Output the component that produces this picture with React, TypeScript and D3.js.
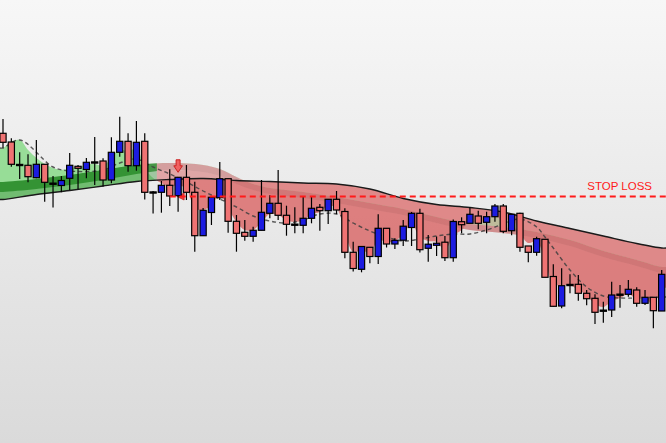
import React from 'react';
import * as d3 from 'd3';

const W = 666;
const H = 443;

// ---- candles (price units) ----
const opens = [366.7,358,335,334.7,322.3,335.7,316.3,314.5,321.7,333.7,330.5,337.5,339,320,347.7,358.7,334.3,358.7,307.5,307.7,314.7,304.3,322.7,307.7,264.3,287.5,302.3,321.3,278.7,267.7,263.7,269.7,286.7,296.7,284.7,275.3,274.7,281.7,292.7,289.3,300.7,288.5,247.7,230.7,252.7,243.5,271.7,256,259.8,272.5,286.7,251.7,254.7,257.8,242.3,278.3,276.7,284,277.7,283.3,294,269.3,286.7,254,247.7,260.7,223.5,194,215,215.7,206.7,201.7,189.3,190,205.3,205.7,210,196.7,202.7,189];
const highs = [381,361.7,347.7,345.7,360,335.7,324,324,347,335,342,363,341.7,362.7,383.3,366.7,379,366.7,309,319,330.7,322.7,335,318.3,292,303,338,321.3,285,280,273.3,320,304.7,330,294.3,292.7,303.3,303.3,296,301,309,291.7,258.3,253.5,252.7,285.8,271.7,261.7,280,288,291.2,265,263.5,264,280.5,282.7,292.7,289.3,288.3,296,296,285.7,287.3,254,263.3,260.7,235.8,231.7,225.8,225,210,205.7,198.3,218.3,215,220,212.7,210,202.7,230];
const lows = [352.3,333.3,321,317.7,321.7,298.3,292.5,307.7,310,310.7,321.7,315,313.5,316.7,343.3,328.3,329.3,300.5,286.5,287.3,294,288.3,300,248.3,264,275,300,267.3,248.3,259.3,258.3,269.7,281.7,280,264.3,266.7,266.7,276.7,269.3,276,286,241.7,228.5,227.7,236.7,236,252.5,251,254,254,247.5,238.3,244,239,238.3,266.7,276.7,270.7,266.7,278.3,266.7,264.7,248.3,237.7,244.3,222.7,193.5,191.7,206.7,199.3,194.7,176,177.3,183,192.3,203.3,193.3,195,171.7,189];
const closes = [357.7,335.7,335,323.3,335.7,317.7,316.3,319.5,334.7,331.7,337.7,337.5,320,347.7,358.7,334.3,357.7,307.7,307.5,314.7,304,322.7,307.7,264.3,289.7,302.7,321.3,278.7,266.7,263.7,269.7,287.7,296.7,284.7,275.7,275.3,281.7,291.7,289.3,300.7,290,247.7,231.5,253.5,243.5,271.7,256,259.7,273.8,286.7,250.3,255.8,256.7,242.3,278.5,275.3,285.7,276.7,283.3,294,268.7,285.7,252.7,247.7,261.3,222.7,193.7,214.3,215,206.7,201.3,187.7,189.3,205,205.3,210.7,196.7,202.7,189.3,225.7];

// ---- slow average (solid black) ----
const slowIdx = [0,4,8,12,16,20,24,28,32,36,40,44,48,52,56,60,64,68,72,76,79];
const slowVal = [300.5,305.5,309.5,314,318.5,320.5,321.5,319.5,318.5,317,316,311,301.5,295.5,292.5,288,279,271.5,264,256.5,252];

// ---- fast average (dashed) ----
const fastIdx = [0,2,6,8,12,14,16,18,20,22,24,26,28,30,32,34,36,38,40,42,44,46,48,50,52,54,56,58,60,62,64,65,66,68,70,72,74,76,79];
const fastVal = [352,360,333,329,330,337,341,333,326,318,309,301,293,284,279,277,280,286,286,277,269,263,259,261,264,266,266,270,276,281,273,263,252,230,213,204,202,202,203];

// ---- ribbon edge (fastest) one value per candle ----
const edgeVal = [352,358,360,350,342,336,332,330,332,333,335,336,334,342,351,348,352,332,322,317,313,315,311,292,290,295,305,292,278,270,270,278,286,285,280,278,280,286,288,294,292,268,248,250,247,260,258,259,266,276,263,259,258,250,264,270,278,277,280,285,278,282,267,257,259,240,216,215,215,210,205,196,193,199,202,206,201,202,195,212];

// ---- inner ribbon averages ----
const midIdx = [0,4,8,12,16,20,24,26,28,30,32,36,40,44,48,52,56,60,64,68,72,76,79];
const mid1Val = [318,321,325,330,335,337,335,331,323,316,312,308,303,297,291,283,276,273,268,260,249,240,233];
const mid2Val = [308,311,315,320,326,330,328,324,316,310,306,302,297,291,285,277,270,267,262,254,243,234,227];

// ---- annotations ----
const stopLossPrice = [303.5];
const stopLossStart = [20];
const stopLossLabel = ['STOP LOSS'];
const signalIndex = [21];

const xS = d3.scaleLinear().domain([0, 79]).range([3, 661.7]);
const yS = d3.scaleLinear().domain([500, 57]).range([0, 443]);

function interp(idx: number[], val: number[], t: number) {
  if (t <= idx[0]) return val[0];
  for (let k = 0; k < idx.length - 1; k++) {
    if (t <= idx[k + 1]) {
      const f = (t - idx[k]) / (idx[k + 1] - idx[k]);
      return val[k] + f * (val[k + 1] - val[k]);
    }
  }
  return val[val.length - 1];
}

function pts(idx: number[], val: number[]): [number, number][] {
  const p: [number, number][] = idx.map((d, i) => [xS(d), yS(val[i])]);
  return [[0, p[0][1]], ...p, [W, p[p.length - 1][1]]];
}

const lineGen = d3.line().curve(d3.curveCatmullRom.alpha(0.5));

function band(a: [number, number][], b: [number, number][]) {
  const pa = lineGen(a) as string;
  const pb = lineGen(b.slice().reverse()) as string;
  return pa + 'L' + pb.slice(1) + 'Z';
}
function above(a: [number, number][]) {
  return (lineGen(a) as string) + `L${W + 20},-20L-20,-20Z`;
}
function below(a: [number, number][]) {
  return (lineGen(a) as string) + `L${W + 20},${H + 20}L-20,${H + 20}Z`;
}

const edgeIdx = edgeVal.map((_, i) => i);
const pSlow = pts(slowIdx, slowVal);
const pFast = pts(fastIdx, fastVal);
const pEdge = pts(edgeIdx, edgeVal);
const pM1 = pts(midIdx, mid1Val);
const pM2 = pts(midIdx, mid2Val);

// trend segments: edge above slow => up
function trendSegments() {
  const segs: { x0: number; x1: number; up: boolean }[] = [];
  const diff = (i: number) => edgeVal[i] - interp(slowIdx, slowVal, i);
  let start = -20;
  let up = diff(0) > 0;
  for (let i = 0; i < edgeVal.length - 1; i++) {
    const d0 = diff(i), d1 = diff(i + 1);
    if ((d0 > 0) !== (d1 > 0)) {
      const t = i + d0 / (d0 - d1);
      segs.push({ x0: start, x1: xS(t), up });
      start = xS(t);
      up = d1 > 0;
    }
  }
  segs.push({ x0: start, x1: W + 20, up });
  return segs;
}
const segs = trendSegments();

export default function App() {
  const slx0 = xS(stopLossStart[0]);
  const sly = yS(stopLossPrice[0]);
  const sx = xS(signalIndex[0]);
  const sTop = yS(highs[signalIndex[0]]) - 5;
  return (
    <div style={{ position: 'fixed', left: 0, top: 0 }}>
      <svg width={W} height={H} style={{ display: 'block' }}>
        <defs>
          <linearGradient id="bg" x1="0" y1="0" x2="0" y2="1">
            <stop offset="0" stopColor="#f7f7f7" />
            <stop offset="1" stopColor="#dadada" />
          </linearGradient>
          <clipPath id="aboveS"><path d={above(pSlow)} /></clipPath>
          <clipPath id="belowS"><path d={below(pSlow)} /></clipPath>
          <clipPath id="aboveM1"><path d={above(pM1)} /></clipPath>
          <clipPath id="trendUp">
            {segs.filter(s => s.up).map((s, i) => (
              <rect key={i} x={s.x0} y={-20} width={s.x1 - s.x0} height={H + 40} />
            ))}
          </clipPath>
          <clipPath id="trendDown">
            {segs.filter(s => !s.up).map((s, i) => (
              <rect key={i} x={s.x0} y={-20} width={s.x1 - s.x0} height={H + 40} />
            ))}
          </clipPath>
        </defs>
        <rect x={0} y={0} width={W} height={H} fill="url(#bg)" />

        {/* ribbon layers */}
        <path d={band(pEdge, pSlow)} fill="#5ccc5c" fillOpacity={0.55} clipPath="url(#aboveS)" />
        <path d={band(pEdge, pSlow)} fill="#dc5c5c" fillOpacity={0.58} clipPath="url(#belowS)" />

        <g clipPath="url(#trendUp)">
          <path d={band(pM1, pSlow)} fill="#2f8f2f" fillOpacity={0.4} />
          <path d={band(pM1, pM2)} fill="#0c780c" fillOpacity={0.6} />
        </g>
        <g clipPath="url(#trendDown)">
          <path d={band(pM1, pSlow)} fill="#d05050" fillOpacity={0.18} />
          <path d={band(pM2, pEdge)} fill="#d04848" fillOpacity={0.3} />
          <path d={band(pM1, pM2)} fill="#a83030" fillOpacity={0.3} />
        </g>
        <path d={band(pEdge, pM1)} fill="#8ee08e" fillOpacity={0.4} clipPath="url(#aboveM1)" />

        <path d={lineGen(pSlow) as string} fill="none" stroke="#1a1a1a" strokeWidth={1.4} />
        <path d={lineGen(pFast) as string} fill="none" stroke="#404040" strokeOpacity={0.85} strokeWidth={1.4} strokeDasharray="4,3" />

        {/* entry marker */}
        <polygon points={`${sx - 1},${sly} ${sx + 6},${sly - 3.5} ${sx + 6},${sly + 3.5}`} fill="#f04040" stroke="#c02020" strokeWidth={0.8} />

        {/* candles */}
        {opens.map((o, i) => {
          const c = closes[i];
          const x = xS(i);
          const doji = Math.abs(c - o) < 0.5;
          const up = c > o;
          const yTop = yS(Math.max(o, c));
          const h = Math.max(1.2, Math.abs(yS(o) - yS(c)));
          return (
            <g key={i}>
              <line x1={x} x2={x} y1={yS(highs[i])} y2={yS(lows[i])} stroke="#000" strokeWidth={1.2} />
              <rect x={x - 3.1} y={doji ? yTop - 0.6 : yTop} width={6.2} height={h}
                fill={doji ? '#000' : up ? '#1c1ce0' : '#ef7373'} stroke="#000" strokeWidth={1.2} />
            </g>
          );
        })}

        {/* stop loss */}
        <line x1={slx0} x2={W} y1={sly} y2={sly} stroke="#ff1a1a" strokeWidth={2} strokeDasharray="6,4" />
        <text x={652} y={sly - 6.5} textAnchor="end" fontFamily="Liberation Sans, Arial, sans-serif" fontSize={11.5} fill="#ff1a1a">{stopLossLabel[0]}</text>

        {/* signal arrow */}
        <path d={`M${sx - 2},${sTop - 12.5}L${sx + 2},${sTop - 12.5}L${sx + 2},${sTop - 6.5}L${sx + 4.3},${sTop - 6.5}L${sx},${sTop}L${sx - 4.3},${sTop - 6.5}L${sx - 2},${sTop - 6.5}Z`}
          fill="#f06060" stroke="#cc2020" strokeWidth={1} />
      </svg>
    </div>
  );
}
